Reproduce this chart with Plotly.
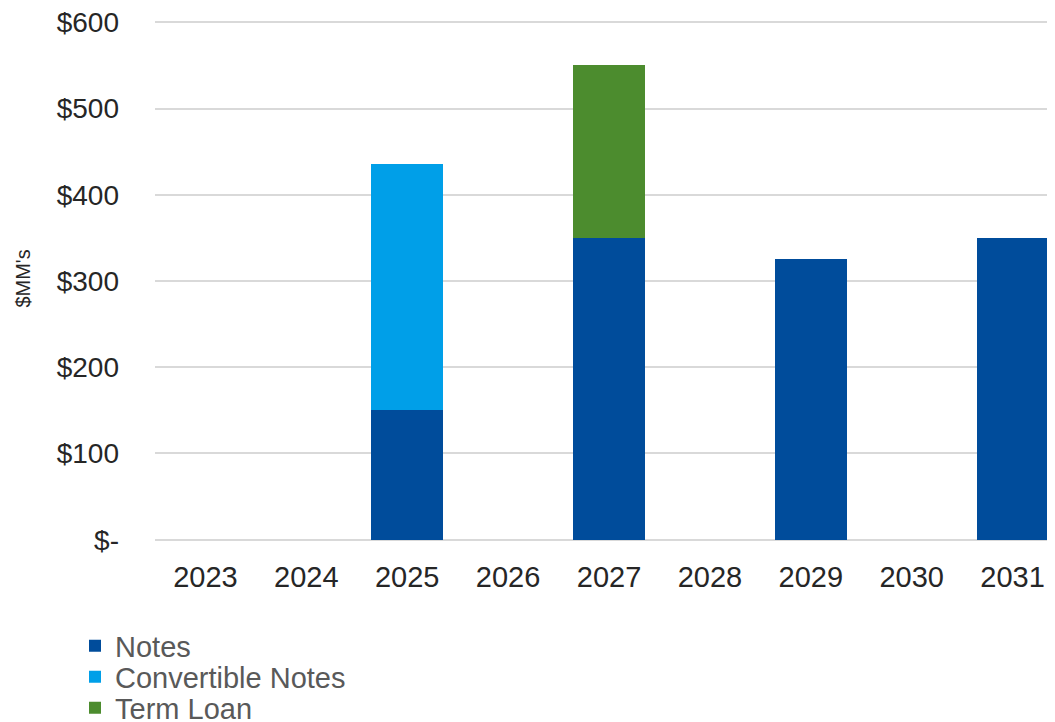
import plotly.graph_objects as go

years = ["2023", "2024", "2025", "2026", "2027", "2028", "2029", "2030", "2031"]
notes = [0, 0, 150, 0, 350, 0, 325, 0, 350]
convertible_notes = [0, 0, 286, 0, 0, 0, 0, 0, 0]
term_loan = [0, 0, 0, 0, 200, 0, 0, 0, 0]
y_tick_vals = [0, 100, 200, 300, 400, 500, 600]
y_tick_text = ["$-", "$100", "$200", "$300", "$400", "$500", "$600"]

FONT = "Liberation Sans, Arial, sans-serif"

# page body has an 8px margin; positions below are compensated for it
ML, MT, MB = 146.5, 12.7, 188.7
W, H = 1055, 722
plot_w = W - ML
plot_h = H - MT - MB

fig = go.Figure()
fig.add_trace(go.Bar(x=years, y=notes, name="Notes", marker=dict(color="#004C9B", line=dict(width=0)),
                     width=0.71, legend="legend"))
fig.add_trace(go.Bar(x=years, y=convertible_notes, name="Convertible Notes",
                     marker=dict(color="#009FE8", line=dict(width=0)), width=0.71, legend="legend2"))
fig.add_trace(go.Bar(x=years, y=term_loan, name="Term Loan", marker=dict(color="#4C8C2E", line=dict(width=0)),
                     width=0.71, legend="legend3"))

leg_common = dict(xref="container", yref="container", x=67 / W, xanchor="left", yanchor="middle",
                  font=dict(family=FONT, size=29, color="#595959"), bgcolor="rgba(0,0,0,0)",
                  borderwidth=0, tracegroupgap=0)

fig.update_layout(
    barmode="stack",
    width=W, height=H,
    margin=dict(l=ML, r=0, t=MT, b=MB, autoexpand=False),
    paper_bgcolor="white", plot_bgcolor="white",
    font=dict(family=FONT, size=29, color="#262626"),
    showlegend=True,
    legend=dict(**leg_common, y=1 - 638 / H),
    legend2=dict(**leg_common, y=1 - 669 / H),
    legend3=dict(**leg_common, y=1 - 700 / H),
    xaxis=dict(type="category", range=[-0.5, 8.5], showgrid=False, showline=False, ticks="",
               tickfont=dict(family=FONT, size=29, color="#262626"), ticklabelstandoff=16,
               zeroline=False, automargin=False, ticklabeloverflow="allow"),
    yaxis=dict(range=[-1.5, 601.5], tickvals=y_tick_vals, ticktext=y_tick_text, showgrid=True,
               gridcolor="#D9D9D9", gridwidth=2, zeroline=False, showline=False, ticks="",
               tickfont=dict(family=FONT, size=28, color="#262626"), ticklabelstandoff=35,
               automargin=False, ticklabeloverflow="allow"),
    annotations=[dict(text="$MM's", textangle=-90, xref="paper", yref="paper",
                      x=(14 - ML) / plot_w, y=(H - MB - (279 - 8)) / plot_h,
                      xanchor="center", yanchor="middle", showarrow=False,
                      font=dict(family=FONT, size=20, color="#262626"))],
)

fig.write_html("out.html")
